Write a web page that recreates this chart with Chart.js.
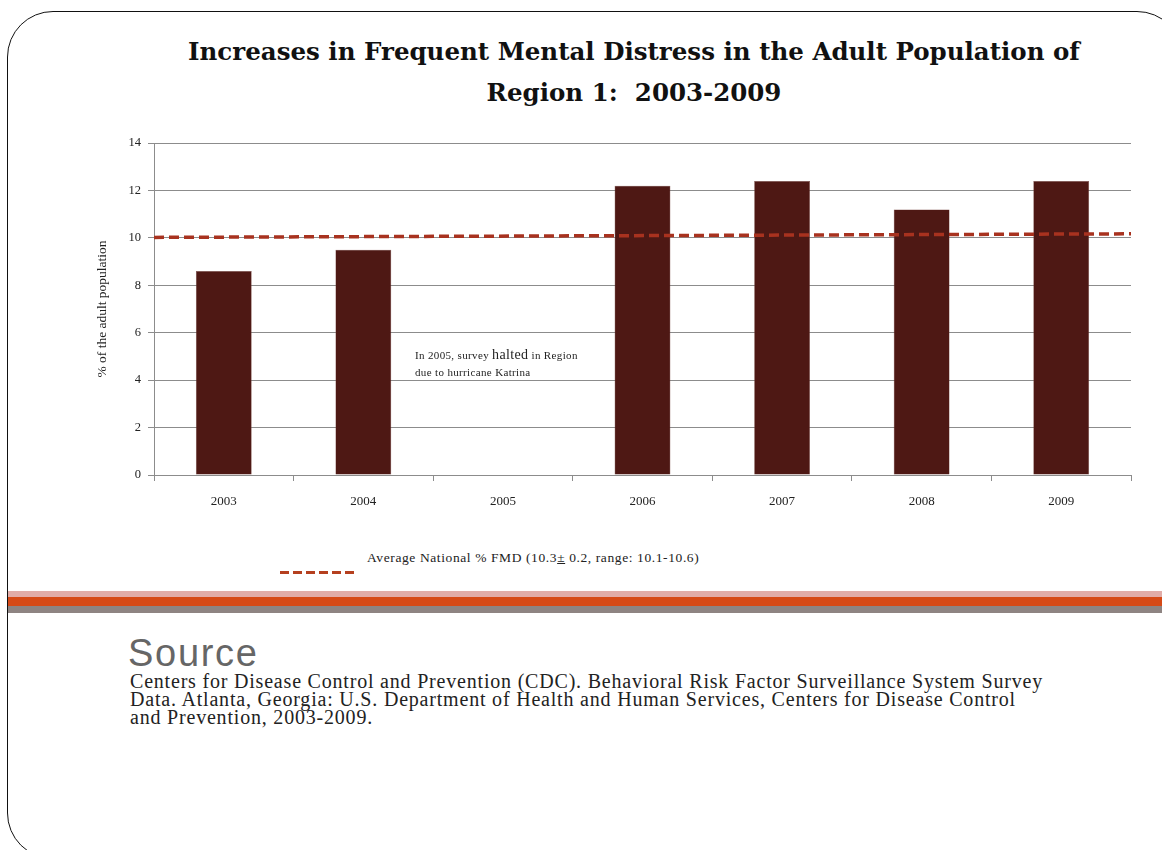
<!DOCTYPE html>
<html>
<head>
<meta charset="utf-8">
<script src="https://cdn.jsdelivr.net/npm/chart.js@4"></script>
<style>
  body { margin: 0; background: #fff; width: 1162px; height: 850px; overflow: hidden; position: relative; font-family: "Liberation Serif", serif; }
  #frame { position: absolute; left: 7px; top: 11px; width: 1174px; height: 846px; border: 1.5px solid #111; border-radius: 46px; }
  #title { position: absolute; left: 134px; width: 1000px; top: 31px; text-align: center; font-family: "DejaVu Serif", serif; font-weight: bold; font-size: 24.5px; line-height: 41px; color: #111; }
  #chart { position: absolute; left: 0; top: 0; }
  #note { position: absolute; left: 415px; top: 346px; font-size: 11px; line-height: 17px; color: #222; white-space: nowrap; letter-spacing: 0.35px; }
  #note .big { font-size: 14px; }
  #legend { position: absolute; left: 280px; top: 550px; height: 26px; white-space: nowrap; }
  #legend .dash { position: absolute; left: 0; top: 21px; width: 75px; height: 3px; background: repeating-linear-gradient(to right, #b5401f 0 9px, transparent 9px 13px); }
  #legend .txt { position: absolute; left: 87px; top: 0; font-size: 13.5px; letter-spacing: 0.6px; color: #222; }
  .stripe { position: absolute; left: 8px; width: 1154px; }
  #source { position: absolute; left: 128px; top: 632px; font-family: "Liberation Sans", Arial, sans-serif; font-size: 38px; letter-spacing: 1.7px; color: #666; }
  #ref { position: absolute; left: 130px; top: 672px; font-size: 20px; line-height: 18px; letter-spacing: 0.8px; color: #222; white-space: nowrap; }
</style>
</head>
<body>
<div id="frame"></div>
<div id="title">Increases in Frequent Mental Distress in the Adult Population of<br>Region 1:&nbsp; 2003-2009</div>
<canvas id="chart" width="1162" height="540"></canvas>
<div id="note">In 2005, survey <span class="big">halted</span> in Region<br>due to hurricane Katrina</div>
<div id="legend"><div class="dash"></div><div class="txt">Average National % FMD (10.3<u>±</u> 0.2, range: 10.1-10.6)</div></div>
<div class="stripe" style="top:591px;height:6px;background:#e1aca8"></div>
<div class="stripe" style="top:597px;height:9px;background:#d64a17"></div>
<div class="stripe" style="top:606px;height:7px;background:#8e8482"></div>
<div id="source">Source</div>
<div id="ref">Centers for Disease Control and Prevention (CDC). Behavioral Risk Factor Surveillance System Survey<br>Data. Atlanta, Georgia: U.S. Department of Health and Human Services, Centers for Disease Control<br>and Prevention, 2003-2009.</div>

<script>
// values
const years = ['2003', '2004', '2005', '2006', '2007', '2008', '2009'];
const fmdRegion = [8.6, 9.5, null, 12.2, 12.4, 11.2, 12.4];
// national average trend line, from left edge to right edge of the plot
const nationalX = [0, 1];
const nationalY = [10.02, 10.17];
const yTicks = [0, 2, 4, 6, 8, 10, 12, 14];

const gridGrey = '#8c8c8c';
const serif = 'Liberation Serif';

window.addEventListener('load', function () {
    const ctx = document.getElementById('chart').getContext('2d');

    new Chart(ctx, {
        type: 'bar',
        data: {
            labels: years,
            datasets: [{
                label: 'Region 1',
                data: fmdRegion,
                backgroundColor: '#4e1814',
                borderColor: '#7a4a46',
                borderWidth: 0.5,
                grouped: false,
                barPercentage: 0.4,
                categoryPercentage: 1,
                order: 2
            }, {
                type: 'line',
                label: 'Average National % FMD',
                data: nationalX.map((x, i) => ({ x: x, y: nationalY[i] })),
                xAxisID: 'xLine',
                borderColor: '#a8321f',
                borderWidth: 3.5,
                borderDash: [10, 5],
                pointRadius: 0,
                fill: false,
                order: 1
            }]
        },
        options: {
            responsive: false,
            animation: false,
            layout: { padding: { left: 80, right: 31, top: 143, bottom: 0 } },
            plugins: {
                legend: { display: false },
                tooltip: { enabled: false }
            },
            scales: {
                x: {
                    grid: { offset: true, drawOnChartArea: false, color: gridGrey, tickLength: 6 },
                    border: { color: gridGrey },
                    ticks: { color: '#222', font: { family: serif, size: 13 }, padding: 13 },
                    afterFit: function (scale) { scale.height = 65; }
                },
                xLine: {
                    type: 'linear',
                    display: false,
                    offset: false,
                    min: 0,
                    max: 1
                },
                y: {
                    min: 0,
                    max: 14,
                    afterBuildTicks: function (scale) { scale.ticks = yTicks.map(v => ({ value: v })); },
                    grid: { color: gridGrey, tickLength: 6 },
                    border: { color: gridGrey },
                    ticks: { color: '#222', font: { family: serif, size: 12.5 }, padding: 7 },
                    title: {
                        display: true,
                        text: '% of the adult population',
                        color: '#222',
                        font: { family: serif, size: 13.5 },
                        padding: { top: 14, bottom: 0 }
                    },
                    afterFit: function (scale) { scale.width = 74; }
                }
            }
        }
    });
});
</script>
</body>
</html>
